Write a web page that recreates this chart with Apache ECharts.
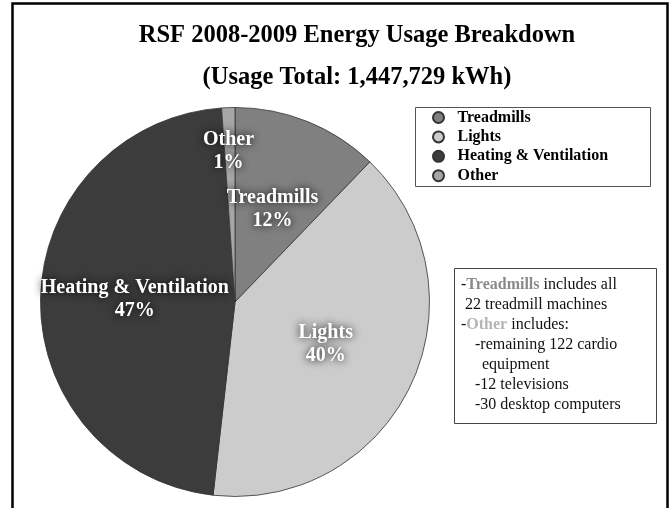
<!DOCTYPE html>
<html>
<head>
<meta charset="utf-8">
<script src="https://cdn.jsdelivr.net/npm/echarts@6/dist/echarts.min.js"></script>
<style>
  html, body { margin: 0; padding: 0; background: #fff; }
  #chart { width: 671px; height: 508px; }
</style>
</head>
<body>
<div id="chart"></div>
<script>
// categories and shares (percent of 1,447,729 kWh)
var categories = ['Treadmills', 'Lights', 'Heating & Ventilation', 'Other'];
var shares = [12.2, 39.6, 47.1, 1.1];
var sliceColors = ['#808080', '#cbcccb', '#3b3c3b', '#a6a6a6'];

var titleLines = ['RSF 2008-2009 Energy Usage Breakdown', '(Usage Total: 1,447,729 kWh)'];

// notes box: [indent px, text]
var noteLines = [
    [0, '-{t|Treadmills} includes all'],
    [4, '22 treadmill machines'],
    [0, '-{o|Other} includes:'],
    [14, '-remaining 122 cardio'],
    [21, 'equipment'],
    [14, '-12 televisions'],
    [14, '-30 desktop computers']
];

var serif = '"Liberation Serif", "Times New Roman", serif';

var chart = echarts.init(document.getElementById('chart'));

var pieData = categories.map(function (c, i) {
    return { name: c, value: shares[i], itemStyle: { color: sliceColors[i] } };
});

var graphics = [
    // outer frame (bottom is cut off)
    {
        type: 'polyline',
        shape: { points: [[12.5, 520], [12.5, 3.5], [667.5, 3.5], [667.5, 520]] },
        style: { stroke: '#000', lineWidth: 2.5, fill: null }
    },
    // legend box
    {
        type: 'rect',
        shape: { x: 415.5, y: 107.5, width: 235, height: 79 },
        style: { fill: null, stroke: '#555', lineWidth: 1 },
        z: 1
    },
    // notes box
    {
        type: 'rect',
        shape: { x: 454.5, y: 268.5, width: 202, height: 155 },
        style: { fill: null, stroke: '#444', lineWidth: 1 }
    }
];

noteLines.forEach(function (ln, i) {
    graphics.push({
        type: 'text',
        left: 461 + ln[0],
        top: 277 + i * 20,
        style: {
            text: ln[1],
            font: '16px ' + serif,
            fill: '#111',
            rich: {
                t: { fontFamily: serif, fontSize: 16, fontWeight: 'bold', fill: '#8a8a8a' },
                o: { fontFamily: serif, fontSize: 16, fontWeight: 'bold', fill: '#b4b4b4' }
            }
        }
    });
});

var option = {
    backgroundColor: '#fff',
    animation: false,
    title: {
        text: titleLines.join('\n'),
        left: 352,
        top: 10,
        textAlign: 'center',
        textStyle: {
            fontFamily: serif,
            fontWeight: 'bold',
            fontSize: 24.5,
            lineHeight: 42,
            color: '#000'
        }
    },
    legend: {
        orient: 'vertical',
        left: 432,
        top: 108,
        padding: 0,
        itemGap: 0.4,
        icon: 'circle',
        itemWidth: 28,
        itemHeight: 11,
        data: categories,
        textStyle: {
            fontFamily: serif,
            fontWeight: 'bold',
            fontSize: 16,
            lineHeight: 19,
            color: '#000',
            padding: [0, 0, 0, 0]
        }
    },
    graphic: graphics,
    series: [{
        type: 'pie',
        center: [235, 302],
        radius: 194.5,
        startAngle: 90,
        clockwise: true,
        avoidLabelOverlap: false,
        itemStyle: { borderColor: '#333', borderWidth: 0.8 },
        label: {
            show: true,
            position: 'inside',
            formatter: function (p) {
                return p.name + '\n' + Math.round(p.percent) + '%';
            },
            fontFamily: serif,
            fontWeight: 'bold',
            fontSize: 20,
            lineHeight: 23,
            color: '#fff',
            textShadowColor: '#000',
            textShadowBlur: 9
        },
        labelLayout: function (params) {
            if (params.dataIndex === 3) {
                return { dx: -3, dy: -50 };
            }
            return {};
        },
        labelLine: { show: false },
        emphasis: { disabled: true },
        data: pieData
    }]
};

chart.setOption(option);

window.onresize = function () {
    chart.resize();
};
</script>
</body>
</html>
